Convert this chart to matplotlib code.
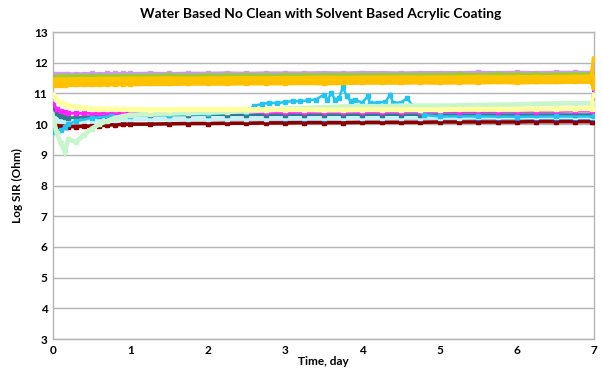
import matplotlib
matplotlib.use("Agg")
import matplotlib.pyplot as plt

days = [0, 0.05, 0.1, 0.15, 0.2, 0.3, 0.4, 0.5, 0.6, 0.7, 0.8, 0.9, 1.0, 1.25, 1.5, 1.75,
        2.0, 2.25, 2.5, 2.75, 3.0, 3.25, 3.5, 3.75, 4.0, 4.25, 4.5, 4.75, 5.0, 5.25,
        5.5, 5.75, 6.0, 6.25, 6.5, 6.75, 6.97, 7.0]

lavender = [11.63, 11.63, 11.64, 11.63, 11.64, 11.64, 11.64, 11.65, 11.64, 11.65, 11.65, 11.65,
            11.65, 11.66, 11.65, 11.66, 11.66, 11.67, 11.66, 11.67, 11.67, 11.67, 11.68, 11.67,
            11.68, 11.68, 11.67, 11.68, 11.68, 11.68, 11.69, 11.68, 11.69, 11.68, 11.69, 11.69, 11.69, 11.25]
green = [11.55, 11.55, 11.56, 11.55, 11.56, 11.56, 11.57, 11.56, 11.57, 11.57, 11.57, 11.58,
         11.58, 11.58, 11.59, 11.58, 11.59, 11.59, 11.60, 11.59, 11.60, 11.60, 11.60, 11.61,
         11.60, 11.61, 11.61, 11.61, 11.61, 11.62, 11.61, 11.62, 11.62, 11.62, 11.62, 11.63, 11.63, 11.35]
gold_top = [11.44, 11.44, 11.45, 11.44, 11.45, 11.45, 11.46, 11.45, 11.46, 11.46, 11.46, 11.47,
            11.47, 11.47, 11.48, 11.47, 11.48, 11.48, 11.49, 11.48, 11.49, 11.49, 11.50, 11.49,
            11.50, 11.50, 11.51, 11.50, 11.51, 11.51, 11.52, 11.51, 11.52, 11.52, 11.52, 11.53, 11.53, 12.12]
gold_low = [11.28, 11.28, 11.29, 11.29, 11.30, 11.30, 11.31, 11.30, 11.31, 11.31, 11.32, 11.32,
            11.32, 11.33, 11.33, 11.34, 11.34, 11.34, 11.35, 11.35, 11.35, 11.36, 11.35, 11.36,
            11.37, 11.37, 11.37, 11.38, 11.37, 11.38, 11.38, 11.39, 11.38, 11.39, 11.39, 11.40, 11.40, 11.20]

yellow = [10.95, 10.80, 10.70, 10.65, 10.60, 10.56, 10.53, 10.50, 10.50, 10.49, 10.49, 10.48,
          10.48, 10.47, 10.47, 10.48, 10.48, 10.48, 10.48, 10.47, 10.47, 10.47, 10.46, 10.46,
          10.47, 10.47, 10.47, 10.47, 10.47, 10.48, 10.48, 10.48, 10.48, 10.49, 10.49, 10.50, 10.50, 10.95]
mint = [10.20, 9.70, 9.40, 9.12, 9.50, 9.42, 9.65, 9.85, 10.00, 10.10, 10.20, 10.25,
        10.30, 10.33, 10.35, 10.37, 10.38, 10.40, 10.42, 10.45, 10.50, 10.52, 10.55, 10.57,
        10.58, 10.58, 10.60, 10.60, 10.60, 10.61, 10.62, 10.63, 10.64, 10.66, 10.67, 10.68, 10.68, 10.60]
magenta = [10.65, 10.50, 10.42, 10.38, 10.36, 10.35, 10.35, 10.35, 10.35, 10.36, 10.36, 10.36,
           10.36, 10.36, 10.37, 10.37, 10.37, 10.38, 10.38, 10.38, 10.38, 10.38, 10.39, 10.39,
           10.39, 10.39, 10.40, 10.40, 10.40, 10.40, 10.40, 10.41, 10.41, 10.41, 10.41, 10.42, 10.42, 11.30]
teal = [10.55, 10.35, 10.25, 10.22, 10.20, 10.22, 10.23, 10.25, 10.26, 10.27, 10.28, 10.29,
        10.30, 10.30, 10.30, 10.30, 10.31, 10.31, 10.31, 10.31, 10.31, 10.31, 10.31, 10.31,
        10.31, 10.31, 10.31, 10.31, 10.31, 10.31, 10.31, 10.31, 10.31, 10.31, 10.31, 10.31, 10.31, 10.31]
light_cyan = [10.30, 10.15, 10.10, 10.10, 10.10, 10.12, 10.13, 10.14, 10.15, 10.15, 10.15, 10.16,
              10.16, 10.16, 10.17, 10.17, 10.17, 10.18, 10.18, 10.18, 10.19, 10.19, 10.19, 10.20,
              10.20, 10.20, 10.21, 10.21, 10.21, 10.21, 10.22, 10.22, 10.22, 10.23, 10.23, 10.23, 10.23, 10.23]
blue = [10.25, 10.20, 10.18, 10.17, 10.17, 10.17, 10.17, 10.17, 10.17, 10.17, 10.17, 10.17,
        10.17, 10.17, 10.17, 10.17, 10.17, 10.18, 10.18, 10.18, 10.18, 10.18, 10.18, 10.19,
        10.19, 10.19, 10.19, 10.19, 10.19, 10.19, 10.20, 10.20, 10.20, 10.20, 10.20, 10.20, 10.20, 11.20]
dark_red = [9.95, 9.95, 9.93, 9.92, 9.92, 9.92, 9.93, 9.93, 9.95, 9.97, 9.98, 9.99,
            10.00, 10.00, 10.01, 10.02, 10.02, 10.03, 10.03, 10.04, 10.04, 10.05, 10.05, 10.05,
            10.06, 10.06, 10.06, 10.06, 10.07, 10.07, 10.07, 10.07, 10.07, 10.08, 10.08, 10.08, 10.08, 10.08]

cyan_days = [0, 0.05, 0.1, 0.15, 0.2, 0.3, 0.5, 0.75, 1.0, 1.5, 2.0, 2.5, 2.6, 2.7, 2.8, 2.9,
             3.0, 3.1, 3.2, 3.3, 3.4, 3.5, 3.55, 3.6, 3.65, 3.7, 3.75, 3.8, 3.85, 3.9, 4.0,
             4.07, 4.1, 4.2, 4.3, 4.36, 4.4, 4.5, 4.58, 4.65, 4.8, 5.0, 5.5, 6.0, 6.5, 7.0]
cyan = [9.75, 9.75, 9.80, 9.90, 10.00, 10.10, 10.20, 10.25, 10.28, 10.30, 10.32, 10.40,
        10.60, 10.65, 10.70, 10.68, 10.72, 10.75, 10.74, 10.78, 10.80, 10.95, 10.80, 11.00,
        10.80, 10.85, 11.20, 10.90, 10.75, 10.80, 10.70, 10.90, 10.70, 10.70, 10.72, 10.95,
        10.70, 10.70, 10.85, 10.60, 10.30, 10.25, 10.25, 10.24, 10.25, 10.25]

x_ticks = [0, 1, 2, 3, 4, 5, 6, 7]
y_ticks = [3, 4, 5, 6, 7, 8, 9, 10, 11, 12, 13]

fig = plt.figure(figsize=(6.02, 3.79), dpi=100)
ax = fig.add_axes([0.088, 0.1055, 0.899, 0.81])

def draw(xs, ys, color, lw=2.6, ms=2.6):
    ax.plot(xs, ys, color=color, lw=lw, marker='s', ms=ms, mec=color, mfc=color,
            solid_joinstyle='miter', clip_on=True, zorder=3)

draw(days, dark_red, '#8B0000')
draw(days, blue, '#1F3FD0')
draw(days, light_cyan, '#C5F3F7', lw=3.2)
draw(days, teal, '#2E7D8C', lw=2.0, ms=2.2)
draw(days, magenta, '#FF22FF', lw=2.0)
draw(cyan_days, cyan, '#22C4F0', lw=1.8, ms=2.6)
draw(days, mint, '#C8F5CC', lw=3.4, ms=3.4)
draw(days, yellow, '#FFFFA0', lw=3.6, ms=3.4)
draw(days, lavender, '#CC99EE', lw=2.2)
draw(days, green, '#9ACD32', lw=2.6)
draw(days, gold_low, '#FFC000', lw=4.0)
draw(days, gold_top, '#FFC400', lw=3.6)

ax.set_xlim(0, 7)
ax.set_ylim(3, 13)
ax.set_xticks(x_ticks)
ax.set_yticks(y_ticks)
ax.yaxis.grid(True, color='#B4B4B4', lw=1.0, zorder=0)
ax.set_axisbelow(True)
for s in ax.spines.values():
    s.set_color('#B4B4B4')
    s.set_linewidth(1.0)
ax.tick_params(length=0, pad=4, labelsize=8.5)
for lab in ax.get_xticklabels() + ax.get_yticklabels():
    lab.set_fontweight('bold')
    lab.set_family('Lato')

ax.set_xlabel('Time, day', fontsize=8.5, fontweight='bold', family='Lato', labelpad=0)
ax.set_ylabel('Log SIR (Ohm)', fontsize=8.5, fontweight='bold', family='Lato', labelpad=8)
fig.text(0.532, 0.962, 'Water Based No Clean with Solvent Based Acrylic Coating',
         ha='center', va='center', fontsize=10, fontweight='bold', family='Lato')

fig.savefig('out.png', dpi=100)
